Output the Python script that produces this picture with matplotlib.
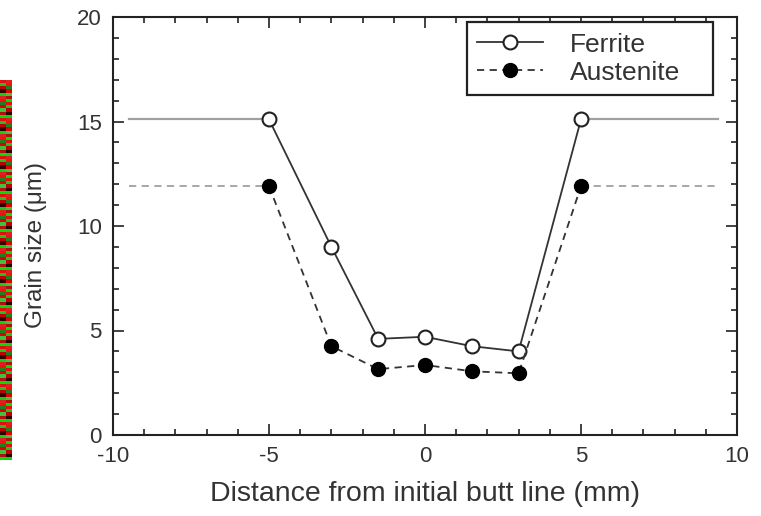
import numpy as np
import matplotlib
matplotlib.use("Agg")
import matplotlib.pyplot as plt
from matplotlib.ticker import MultipleLocator
from matplotlib.colors import to_rgb

plt.rcParams["font.family"] = ["Liberation Sans", "DejaVu Sans"]
plt.rcParams["axes.unicode_minus"] = False

# Measured points
distance = [-5, -3, -1.5, 0, 1.5, 3, 5]
ferrite = [15.1, 9.0, 4.6, 4.7, 4.25, 4.0, 15.1]
austenite = [11.9, 4.25, 3.15, 3.35, 3.05, 2.95, 11.9]

# Base metal level, drawn as flat lines outside the joint
base_left = [-9.5, -5]
base_right = [5, 9.4]
ferrite_base = 15.1
austenite_base = 11.9

fig = plt.figure(figsize=(7.61, 5.16), dpi=100)
ax = fig.add_axes([113 / 761, 81 / 516, 624 / 761, 418 / 516])

grey = "#a0a0a0"
ax.plot(base_left, [ferrite_base] * 2, color=grey, lw=1.6, zorder=1)
ax.plot(base_right, [ferrite_base] * 2, color=grey, lw=1.6, zorder=1)
ax.plot(base_left, [austenite_base] * 2, color=grey, lw=1.3, ls=(0, (4, 3)), zorder=1)
ax.plot(base_right, [austenite_base] * 2, color=grey, lw=1.3, ls=(0, (4, 3)), zorder=1)

ax.plot(distance, ferrite, color="#333333", lw=1.3, marker="o", ms=10,
        mfc="white", mec="#222222", mew=1.5, label="Ferrite", zorder=3)
ax.plot(distance, austenite, color="#333333", lw=1.3, ls=(0, (4, 3)), marker="o",
        ms=10, mfc="black", mec="black", label="Austenite", zorder=3)

ax.set_xlim(-10, 10)
ax.set_ylim(0, 20)
ax.xaxis.set_major_locator(MultipleLocator(5))
ax.xaxis.set_minor_locator(MultipleLocator(1))
ax.yaxis.set_major_locator(MultipleLocator(5))
ax.yaxis.set_minor_locator(MultipleLocator(1))
ax.tick_params(which="both", direction="in", top=True, right=True,
               labelsize=16, width=1.2, colors="#222222", labelcolor="#333333")
ax.tick_params(which="major", length=8, pad=8)
ax.tick_params(which="minor", length=4)
for s in ax.spines.values():
    s.set_linewidth(1.5)
    s.set_color("#222222")

ax.set_xlabel("Distance from initial butt line (mm)", fontsize=20.5, labelpad=10,
              color="#333333")
ax.set_ylabel("Grain size (\u03bcm)", fontsize=17.5, color="#333333")
ax.yaxis.set_label_coords(-0.105, 0.455)

leg = ax.legend(loc="upper left", bbox_to_anchor=(0.567, 0.809, 0.395, 0.179),
                mode="expand", fontsize=19, fancybox=False, framealpha=1,
                edgecolor="#222222", handlelength=2.5, handletextpad=1.0,
                borderpad=0.4, labelspacing=0.15, borderaxespad=0)
leg.get_frame().set_linewidth(1.6)
for t in leg.get_texts():
    t.set_color("#333333")

# red/green strip on the left edge of the scan
strip = fig.add_axes([0, 56 / 516, 12 / 761, 380 / 516])
pattern = ["#e01010", "#20c020", "#c00000", "#300000", "#10d010", "#e02020",
           "#f01010", "#208020", "#e00000", "#40c040", "#b01010", "#00e000"]
img = np.array([[to_rgb(c), to_rgb(pattern[(i + 5) % len(pattern)])]
                for i, c in enumerate(pattern * 10)])
strip.imshow(img, aspect="auto", interpolation="nearest")
strip.axis("off")

fig.savefig("out.png", dpi=100)
